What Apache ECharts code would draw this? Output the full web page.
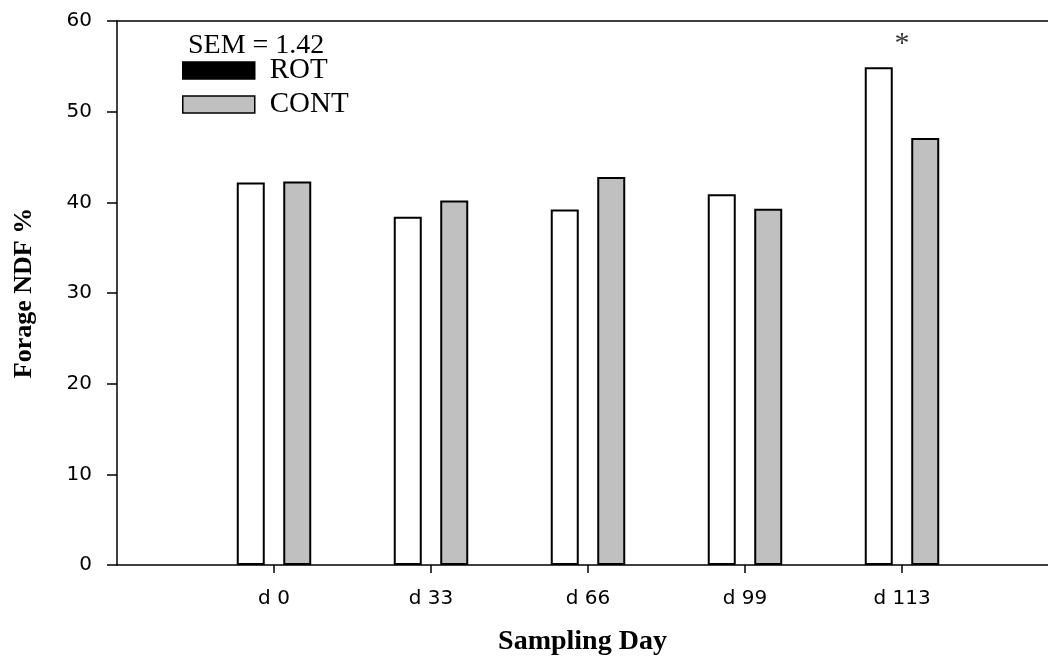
<!DOCTYPE html>
<html>
<head>
<meta charset="utf-8">
<script src="https://cdn.jsdelivr.net/npm/echarts@6/dist/echarts.min.js"></script>
<style>html,body{margin:0;padding:0;background:#fff}#c{width:1048px;height:661px}</style>
</head>
<body>
<div id="c"></div>
<script>
var categories = ['d 0', 'd 33', 'd 66', 'd 99', 'd 113'];
var positions = [1, 2, 3, 4, 5];
var rotValues = [42.2, 38.4, 39.2, 40.9, 54.9];
var contValues = [42.3, 40.2, 42.8, 39.3, 47.1];
var starMarks = [[5, 57.4]];
var semText = 'SEM = 1.42';

var serif = '"Liberation Serif", "Times New Roman", serif';
var sans = '"DejaVu Sans", Arial, sans-serif';

function pairs(vals) { return vals.map(function (v, i) { return [positions[i], v]; }); }

var chart = echarts.init(document.getElementById('c'));
chart.setOption({
  animation: false,
  backgroundColor: '#fff',
  title: {
    text: semText, left: 183, top: 27,
    textStyle: { fontFamily: serif, fontSize: 28, fontWeight: 'normal', color: '#000' }
  },
  legend: {
    orient: 'vertical', left: 177, top: 51,
    itemWidth: 72, itemHeight: 17, itemGap: 5,
    icon: 'rect',
    textStyle: { fontFamily: serif, fontSize: 29, color: '#000', padding: [0, 0, 0, 10] },
    data: [
      { name: 'ROT', itemStyle: { color: '#000', borderColor: '#000', borderWidth: 1.5 } },
      { name: 'CONT', itemStyle: { color: '#c0c0c0', borderColor: '#000', borderWidth: 1.5 } }
    ]
  },
  grid: { left: 117, right: 0, top: 21, bottom: 91 },
  xAxis: [{
    type: 'value', min: 0, max: 5.93, interval: 1,
    splitLine: { show: false },
    axisLine: { show: true, lineStyle: { color: '#000', width: 1.5 } },
    axisTick: { show: true, length: 8, customValues: positions, lineStyle: { color: '#000', width: 1.5 } },
    axisLabel: {
      customValues: positions, margin: 24,
      fontFamily: sans, fontSize: 20, color: '#000',
      formatter: function (v) { var i = positions.indexOf(Math.round(v)); return i >= 0 ? categories[i] : ''; }
    },
    name: 'Sampling Day', nameLocation: 'middle', nameGap: 63,
    nameTextStyle: { fontFamily: serif, fontSize: 28, fontWeight: 'bold', color: '#000' }
  }, {
    type: 'value', min: 0, max: 5.93, position: 'top',
    splitLine: { show: false },
    axisLine: { show: true, lineStyle: { color: '#000', width: 1.5 } },
    axisTick: { show: false }, axisLabel: { show: false }
  }],
  yAxis: {
    type: 'value', min: 0, max: 60, interval: 10,
    splitLine: { show: false },
    axisLine: { show: true, lineStyle: { color: '#000', width: 1.5 } },
    axisTick: { show: true, inside: false, length: 10, lineStyle: { color: '#000', width: 1.5 } },
    axisLabel: { margin: 25, fontFamily: sans, fontSize: 20, color: '#000' },
    name: 'Forage NDF %', nameLocation: 'middle', nameGap: 80, nameRotate: 90,
    nameTextStyle: { fontFamily: serif, fontSize: 26, fontWeight: 'bold', color: '#000' }
  },
  series: [{
    name: 'ROT', type: 'bar', data: pairs(rotValues),
    barWidth: 28, barGap: '66%',
    itemStyle: { color: '#fff', borderColor: '#000', borderWidth: 2 }
  }, {
    name: 'CONT', type: 'bar', data: pairs(contValues),
    barWidth: 28, barGap: '66%',
    itemStyle: { color: '#c0c0c0', borderColor: '#000', borderWidth: 2 }
  }, {
    name: 'sig', type: 'scatter', data: starMarks, symbolSize: 1,
    itemStyle: { color: 'rgba(0,0,0,0)' },
    label: { show: true, position: 'inside', formatter: '*', fontFamily: serif, fontSize: 30, color: '#000' }
  }]
});
</script>
</body>
</html>
